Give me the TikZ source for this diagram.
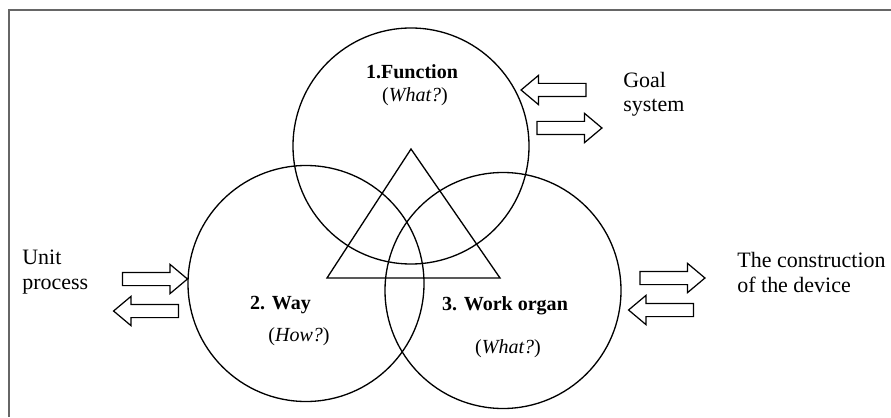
\documentclass[tikz,border=0pt]{standalone}
\usepackage{fontspec}
\setmainfont{Liberation Serif}
\usetikzlibrary{shapes.arrows,positioning}

\begin{document}
\begin{tikzpicture}[every node/.style={font=\fontsize{12.5}{14.2}\selectfont}]
\tikzstyle{ring}=[draw, circle, line width=0.75pt, minimum size=4.72cm, inner sep=0]
\tikzstyle{lbl}=[font=\fontsize{11.4}{13}\selectfont, anchor=base]
\tikzstyle{side}=[align=left, anchor=base west, inner sep=0]
\tikzstyle{blkarrow}=[draw, single arrow, line width=0.7pt, minimum height=1.3cm, inner xsep=0, inner ysep=0.12cm, single arrow head extend=0.16cm, single arrow tip angle=80]
\useasboundingbox (0,0) rectangle (17.82,8.34);
\draw[gray!80!black, line width=0.6pt] (0.18,0) -- (0.18,8.14) -- (17.82,8.14);
% the three circles
\node[ring] (fn) at (8.22,5.42) {};
\node[ring] (way) at (6.12,2.67) {};
\node[ring] (organ) at (10.06,2.53) {};
% triangle in the middle
\coordinate (ta) at (8.22,5.36);
\coordinate (tl) at (6.54,2.78);
\coordinate (tr) at (10.0,2.78);
\draw[line width=0.75pt] (ta) -- (tl) -- (tr) -- cycle;
% circle labels
\node[lbl] (fnt) at (8.24,6.76) {\textbf{1.Function}};
\node[lbl] (fnq) at (8.3,6.3) {(\textit{What?})};
\node[lbl] (wayt) at (5.61,2.16) {\textbf{2. Way}};
\node[lbl] (wayq) at (5.98,1.52) {(\textit{How?})};
\node[lbl] (orgt) at (10.1,2.14) {\textbf{3. Work organ}};
\node[lbl] (orgq) at (10.16,1.28) {(\textit{What?})};
% outside labels
\node[side] (goal) at (12.46,6.10) {Goal\\system};
\node[side] (unit) at (0.44,2.56) {Unit\\process};
\node[side] (dev) at (14.74,2.50) {The construction\\of the device};
% block arrows
\node[blkarrow, shape border rotate=180] (g1) at (11.15,6.54) {};
\node[blkarrow] (g2) at (11.31,5.78) {};
\node[blkarrow] (u1) at (3.02,2.76) {};
\node[blkarrow, shape border rotate=180] (u2) at (3.0,2.12) {};
\node[blkarrow] (d1) at (13.37,2.78) {};
\node[blkarrow, shape border rotate=180] (d2) at (13.3,2.14) {};
\end{tikzpicture}
\end{document}
